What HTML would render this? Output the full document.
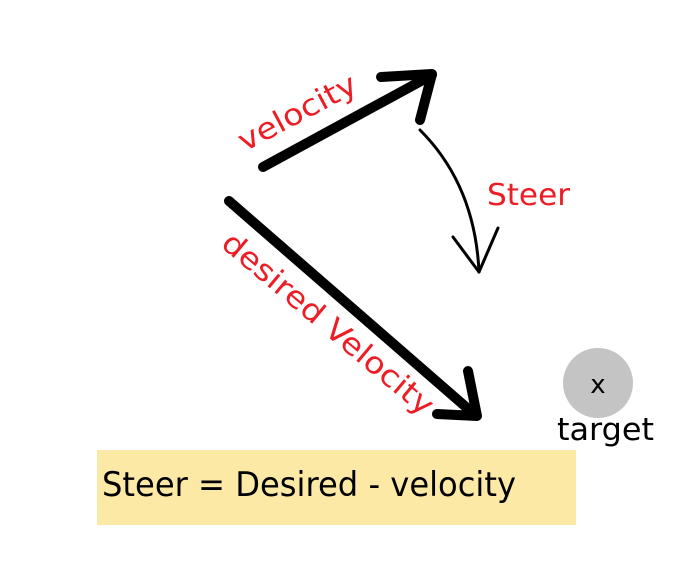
<!DOCTYPE html>
<html><head><style>
body{margin:0;background:#fff;width:696px;height:564px;overflow:hidden;position:relative;font-family:"DejaVu Sans","Liberation Sans",sans-serif}
</style></head><body>
<div style="position:absolute;left:97px;top:450px;width:479px;height:75px;background:#fce9a5"></div>
<svg width="696" height="564" style="position:absolute;left:0;top:0" font-family="DejaVu Sans, Liberation Sans, sans-serif">
<g stroke="#000" fill="none" stroke-linecap="round" stroke-linejoin="round">
<path d="M263 167 L432 75" stroke-width="10"/>
<path d="M381 77 L432 74 L420 120" stroke-width="10"/>
<path d="M420 130 Q475 185 479 272" stroke-width="3"/>
<path d="M453 237 L479 272 L498 228" stroke-width="3"/>
<path d="M229 201 L474 414" stroke-width="10"/>
<path d="M468 371 L477 416 L437 414" stroke-width="10"/>
</g>
<circle cx="598" cy="383" r="35" fill="#c4c4c4"/>
<g fill="#ee1c24" font-size="30">
<text x="0" y="0" transform="translate(298,114) rotate(-28)" text-anchor="middle" dominant-baseline="middle" textLength="130" lengthAdjust="spacingAndGlyphs">velocity</text>
<text x="487" y="205" textLength="83" lengthAdjust="spacingAndGlyphs">Steer</text>
<text x="0" y="0" transform="translate(327,325) rotate(40)" text-anchor="middle" dominant-baseline="middle" textLength="266" lengthAdjust="spacingAndGlyphs">desired Velocity</text>
</g>
<text x="598" y="393" font-size="26" text-anchor="middle">x</text>
<text x="557" y="440" font-size="31" textLength="97" lengthAdjust="spacingAndGlyphs">target</text>
<text x="102" y="496" font-size="34" textLength="414" lengthAdjust="spacingAndGlyphs">Steer = Desired - velocity</text>
</svg>
</body></html>
